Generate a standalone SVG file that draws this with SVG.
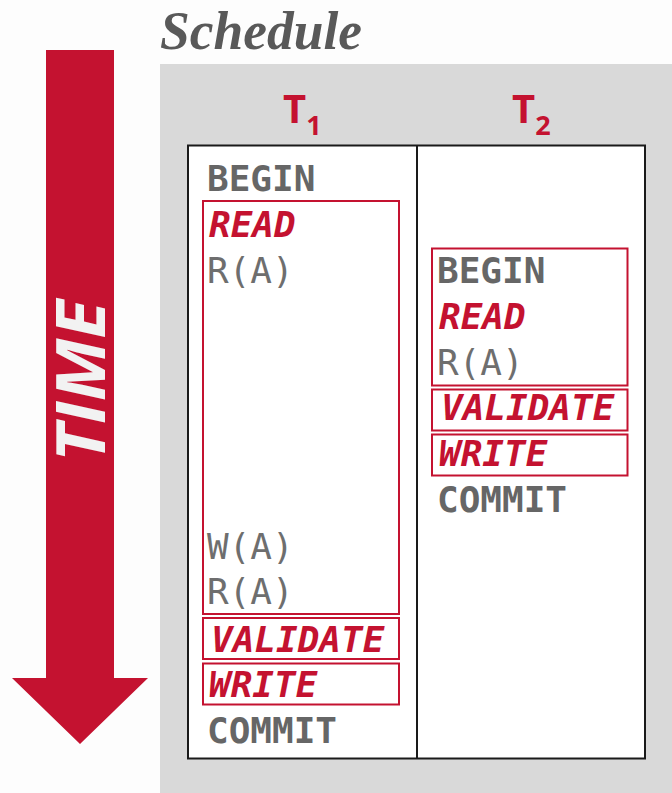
<svg xmlns="http://www.w3.org/2000/svg" width="672" height="793" viewBox="0 0 672 793">
<style>
.mono{font-family:"DejaVu Sans Mono","Liberation Mono",monospace;font-size:36px}
.op{fill:#666;font-weight:bold}
.ph{fill:#c41230;font-weight:bold;font-style:italic}
.rw{fill:#6e6e6e}
.box{fill:none;stroke:#c41230;stroke-width:2}
.hdr{font-family:"Open Sans","Liberation Sans",sans-serif;font-weight:bold;fill:#c41230}
</style>
<rect x="0" y="0" width="672" height="793" fill="#fdfdfd"/>
<rect x="160" y="64" width="512" height="729" fill="#d9d9d9"/>
<text x="160" y="49" font-family="Liberation Serif,serif" font-weight="bold" font-style="italic" font-size="54" fill="#595959" textLength="202" lengthAdjust="spacingAndGlyphs">Schedule</text>
<g id="time-arrow">
<polygon points="46,50 114,50 114,678 148,678 80,744 12,678 46,678" fill="#c41230"/>
<text transform="translate(105,381) rotate(-90)" text-anchor="middle" font-family="Open Sans,Liberation Sans,sans-serif" font-weight="bold" font-style="italic" font-size="68" fill="#f2f2f2" textLength="162" lengthAdjust="spacingAndGlyphs">TIME</text>
</g>
<g id="table">
<rect x="188" y="145.5" width="457" height="613" fill="#fff" stroke="#1a1a1a" stroke-width="2"/>
<line x1="417" y1="145.5" x2="417" y2="758.5" stroke="#1a1a1a" stroke-width="2"/>
</g>
<g id="t1-header"><text class="hdr" x="283" y="123" font-size="40">T<tspan font-size="27" dy="12">1</tspan></text></g>
<g id="t2-header"><text class="hdr" x="512" y="123" font-size="40">T<tspan font-size="27" dy="12">2</tspan></text></g>
<g id="t1" class="mono">
<text class="op" x="207" y="191">BEGIN</text>
<rect class="box" x="203" y="201" width="196" height="413"/>
<text class="ph" x="209" y="237">READ</text>
<text class="rw" x="207" y="283">R(A)</text>
<text class="rw" x="207" y="559">W(A)</text>
<text class="rw" x="207" y="604">R(A)</text>
<rect class="box" x="203" y="618" width="196" height="41"/>
<text class="ph" x="211" y="652">VALIDATE</text>
<rect class="box" x="203" y="663.5" width="196" height="41"/>
<text class="ph" x="209" y="697">WRITE</text>
<text class="op" x="207" y="743">COMMIT</text>
</g>
<g id="t2" class="mono">
<rect class="box" x="432" y="248.5" width="195.5" height="137"/>
<text class="op" x="437" y="283">BEGIN</text>
<text class="ph" x="439" y="329">READ</text>
<text class="rw" x="437" y="375">R(A)</text>
<rect class="box" x="432" y="389.5" width="195.5" height="41"/>
<text class="ph" x="441" y="420">VALIDATE</text>
<rect class="box" x="432" y="434.5" width="195.5" height="41"/>
<text class="ph" x="439" y="466">WRITE</text>
<text class="op" x="437" y="512">COMMIT</text>
</g>
</svg>
